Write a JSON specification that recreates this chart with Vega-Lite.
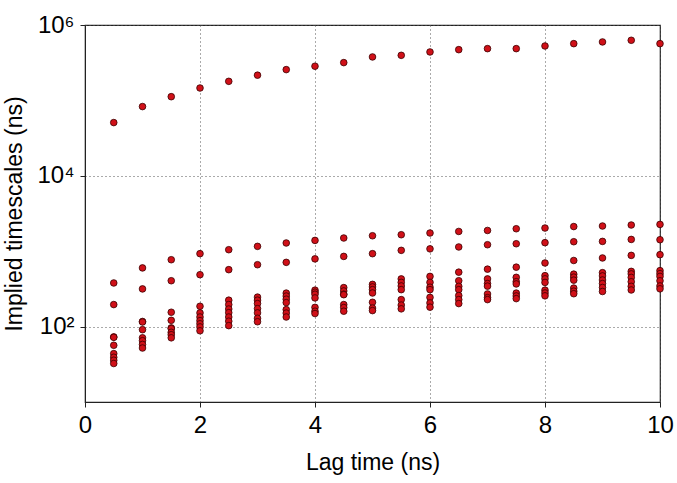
{
  "$schema": "https://vega.github.io/schema/vega-lite/v6.json",
  "width": 575,
  "height": 377,
  "autosize": {"type": "none"},
  "padding": {"left": 85, "top": 25, "right": 17, "bottom": 81},
  "background": "white",
  "config": {
    "view": {"stroke": "#222", "strokeWidth": 1.2},
    "font": "Liberation Sans"
  },
  "data": {
    "values": [
      {"lag": 0.5, "ts": 50800}, {"lag": 1.0, "ts": 82800}, {"lag": 1.5, "ts": 112000}, {"lag": 2.0, "ts": 146000},
      {"lag": 2.5, "ts": 179000}, {"lag": 3.0, "ts": 216000}, {"lag": 3.5, "ts": 256000}, {"lag": 4.0, "ts": 284000},
      {"lag": 4.5, "ts": 317000}, {"lag": 5.0, "ts": 377000}, {"lag": 5.5, "ts": 396000}, {"lag": 6.0, "ts": 439000},
      {"lag": 6.5, "ts": 471000}, {"lag": 7.0, "ts": 486000}, {"lag": 7.5, "ts": 486000}, {"lag": 8.0, "ts": 527000},
      {"lag": 8.5, "ts": 566000}, {"lag": 9.0, "ts": 596000}, {"lag": 9.5, "ts": 627000}, {"lag": 10.0, "ts": 566000},

      {"lag": 0.5, "ts": 379}, {"lag": 0.5, "ts": 196}, {"lag": 0.5, "ts": 73}, {"lag": 0.5, "ts": 72}, {"lag": 0.5, "ts": 56.5},
      {"lag": 0.5, "ts": 43.8}, {"lag": 0.5, "ts": 39.2}, {"lag": 0.5, "ts": 35.8}, {"lag": 0.5, "ts": 32.4},

      {"lag": 1.0, "ts": 600}, {"lag": 1.0, "ts": 316}, {"lag": 1.0, "ts": 117}, {"lag": 1.0, "ts": 115}, {"lag": 1.0, "ts": 91},
      {"lag": 1.0, "ts": 71}, {"lag": 1.0, "ts": 65}, {"lag": 1.0, "ts": 58}, {"lag": 1.0, "ts": 52},

      {"lag": 1.5, "ts": 771}, {"lag": 1.5, "ts": 406}, {"lag": 1.5, "ts": 155}, {"lag": 1.5, "ts": 121}, {"lag": 1.5, "ts": 96},
      {"lag": 1.5, "ts": 94}, {"lag": 1.5, "ts": 84}, {"lag": 1.5, "ts": 78}, {"lag": 1.5, "ts": 71},

      {"lag": 2.0, "ts": 927}, {"lag": 2.0, "ts": 488}, {"lag": 2.0, "ts": 186}, {"lag": 2.0, "ts": 152}, {"lag": 2.0, "ts": 134},
      {"lag": 2.0, "ts": 120}, {"lag": 2.0, "ts": 109}, {"lag": 2.0, "ts": 99}, {"lag": 2.0, "ts": 88},

      {"lag": 2.5, "ts": 1047}, {"lag": 2.5, "ts": 569}, {"lag": 2.5, "ts": 224}, {"lag": 2.5, "ts": 196}, {"lag": 2.5, "ts": 171},
      {"lag": 2.5, "ts": 153}, {"lag": 2.5, "ts": 134}, {"lag": 2.5, "ts": 118}, {"lag": 2.5, "ts": 103},

      {"lag": 3.0, "ts": 1159}, {"lag": 3.0, "ts": 662}, {"lag": 3.0, "ts": 246}, {"lag": 3.0, "ts": 224}, {"lag": 3.0, "ts": 202},
      {"lag": 3.0, "ts": 173}, {"lag": 3.0, "ts": 152}, {"lag": 3.0, "ts": 129}, {"lag": 3.0, "ts": 116},

      {"lag": 3.5, "ts": 1285}, {"lag": 3.5, "ts": 711}, {"lag": 3.5, "ts": 278}, {"lag": 3.5, "ts": 254}, {"lag": 3.5, "ts": 231},
      {"lag": 3.5, "ts": 208}, {"lag": 3.5, "ts": 168}, {"lag": 3.5, "ts": 151}, {"lag": 3.5, "ts": 134},

      {"lag": 4.0, "ts": 1390}, {"lag": 4.0, "ts": 791}, {"lag": 4.0, "ts": 304}, {"lag": 4.0, "ts": 286}, {"lag": 4.0, "ts": 269},
      {"lag": 4.0, "ts": 240}, {"lag": 4.0, "ts": 180}, {"lag": 4.0, "ts": 160}, {"lag": 4.0, "ts": 149},

      {"lag": 4.5, "ts": 1496}, {"lag": 4.5, "ts": 853}, {"lag": 4.5, "ts": 329}, {"lag": 4.5, "ts": 297}, {"lag": 4.5, "ts": 269},
      {"lag": 4.5, "ts": 265}, {"lag": 4.5, "ts": 196}, {"lag": 4.5, "ts": 179}, {"lag": 4.5, "ts": 160},

      {"lag": 5.0, "ts": 1603}, {"lag": 5.0, "ts": 927}, {"lag": 5.0, "ts": 363}, {"lag": 5.0, "ts": 336}, {"lag": 5.0, "ts": 309},
      {"lag": 5.0, "ts": 279}, {"lag": 5.0, "ts": 210}, {"lag": 5.0, "ts": 176}, {"lag": 5.0, "ts": 163},

      {"lag": 5.5, "ts": 1654}, {"lag": 5.5, "ts": 1026}, {"lag": 5.5, "ts": 429}, {"lag": 5.5, "ts": 386}, {"lag": 5.5, "ts": 346},
      {"lag": 5.5, "ts": 309}, {"lag": 5.5, "ts": 228}, {"lag": 5.5, "ts": 193}, {"lag": 5.5, "ts": 172},

      {"lag": 6.0, "ts": 1742}, {"lag": 6.0, "ts": 1074}, {"lag": 6.0, "ts": 463}, {"lag": 6.0, "ts": 386}, {"lag": 6.0, "ts": 333},
      {"lag": 6.0, "ts": 309}, {"lag": 6.0, "ts": 244}, {"lag": 6.0, "ts": 206}, {"lag": 6.0, "ts": 181},

      {"lag": 6.5, "ts": 1828}, {"lag": 6.5, "ts": 1138}, {"lag": 6.5, "ts": 527}, {"lag": 6.5, "ts": 406}, {"lag": 6.5, "ts": 342},
      {"lag": 6.5, "ts": 309}, {"lag": 6.5, "ts": 258}, {"lag": 6.5, "ts": 228}, {"lag": 6.5, "ts": 202},

      {"lag": 7.0, "ts": 1884}, {"lag": 7.0, "ts": 1219}, {"lag": 7.0, "ts": 578}, {"lag": 7.0, "ts": 429}, {"lag": 7.0, "ts": 372},
      {"lag": 7.0, "ts": 344}, {"lag": 7.0, "ts": 271}, {"lag": 7.0, "ts": 242}, {"lag": 7.0, "ts": 228},

      {"lag": 7.5, "ts": 1986}, {"lag": 7.5, "ts": 1256}, {"lag": 7.5, "ts": 614}, {"lag": 7.5, "ts": 450}, {"lag": 7.5, "ts": 394},
      {"lag": 7.5, "ts": 368}, {"lag": 7.5, "ts": 278}, {"lag": 7.5, "ts": 255}, {"lag": 7.5, "ts": 235},

      {"lag": 8.0, "ts": 2028}, {"lag": 8.0, "ts": 1297}, {"lag": 8.0, "ts": 698}, {"lag": 8.0, "ts": 474}, {"lag": 8.0, "ts": 430},
      {"lag": 8.0, "ts": 385}, {"lag": 8.0, "ts": 304}, {"lag": 8.0, "ts": 279}, {"lag": 8.0, "ts": 256},

      {"lag": 8.5, "ts": 2122}, {"lag": 8.5, "ts": 1336}, {"lag": 8.5, "ts": 753}, {"lag": 8.5, "ts": 496}, {"lag": 8.5, "ts": 453},
      {"lag": 8.5, "ts": 413}, {"lag": 8.5, "ts": 324}, {"lag": 8.5, "ts": 295}, {"lag": 8.5, "ts": 273},

      {"lag": 9.0, "ts": 2158}, {"lag": 9.0, "ts": 1349}, {"lag": 9.0, "ts": 813}, {"lag": 9.0, "ts": 519}, {"lag": 9.0, "ts": 470},
      {"lag": 9.0, "ts": 415}, {"lag": 9.0, "ts": 372}, {"lag": 9.0, "ts": 330}, {"lag": 9.0, "ts": 292},

      {"lag": 9.5, "ts": 2224}, {"lag": 9.5, "ts": 1432}, {"lag": 9.5, "ts": 880}, {"lag": 9.5, "ts": 540}, {"lag": 9.5, "ts": 500},
      {"lag": 9.5, "ts": 449}, {"lag": 9.5, "ts": 393}, {"lag": 9.5, "ts": 342}, {"lag": 9.5, "ts": 306},

      {"lag": 10.0, "ts": 2265}, {"lag": 10.0, "ts": 1420}, {"lag": 10.0, "ts": 899}, {"lag": 10.0, "ts": 552}, {"lag": 10.0, "ts": 504},
      {"lag": 10.0, "ts": 463}, {"lag": 10.0, "ts": 405}, {"lag": 10.0, "ts": 346}, {"lag": 10.0, "ts": 317}
    ]
  },
  "mark": {"type": "point", "shape": "circle", "filled": true, "size": 44, "fill": "#d01018", "stroke": "#3a0000", "strokeWidth": 0.8, "opacity": 1, "clip": false},
  "encoding": {
    "x": {
      "field": "lag", "type": "quantitative",
      "scale": {"domain": [0, 10], "nice": false, "zero": false},
      "axis": {
        "title": "Lag time (ns)", "values": [0, 2, 4, 6, 8, 10], "format": "d",
        "grid": true, "gridDash": [1, 3], "gridColor": "#555", "gridWidth": 1,
        "domainColor": "#222", "tickColor": "#222", "tickSize": 5,
        "labelFontSize": 24, "labelColor": "#000", "labelPadding": 6,
        "titleFontSize": 23, "titleFontWeight": "normal", "titleColor": "#000", "titlePadding": 14,
        "labelFlush": false
      }
    },
    "y": {
      "field": "ts", "type": "quantitative",
      "scale": {"type": "log", "domain": [10, 1000000], "nice": false},
      "axis": {
        "title": "Implied timescales (ns)", "values": [100, 10000, 1000000],
        "labelExpr": "datum.value == 100 ? '10²' : datum.value == 10000 ? '10⁴' : '10⁶'",
        "grid": true, "gridDash": [1, 3], "gridColor": "#555", "gridWidth": 1,
        "domainColor": "#222", "tickColor": "#222", "tickSize": 5,
        "labelFontSize": 24, "labelColor": "#000", "labelPadding": 6,
        "titleFontSize": 23, "titleFontWeight": "normal", "titleColor": "#000", "titlePadding": 10,
        "labelFlush": false
      }
    }
  }
}
